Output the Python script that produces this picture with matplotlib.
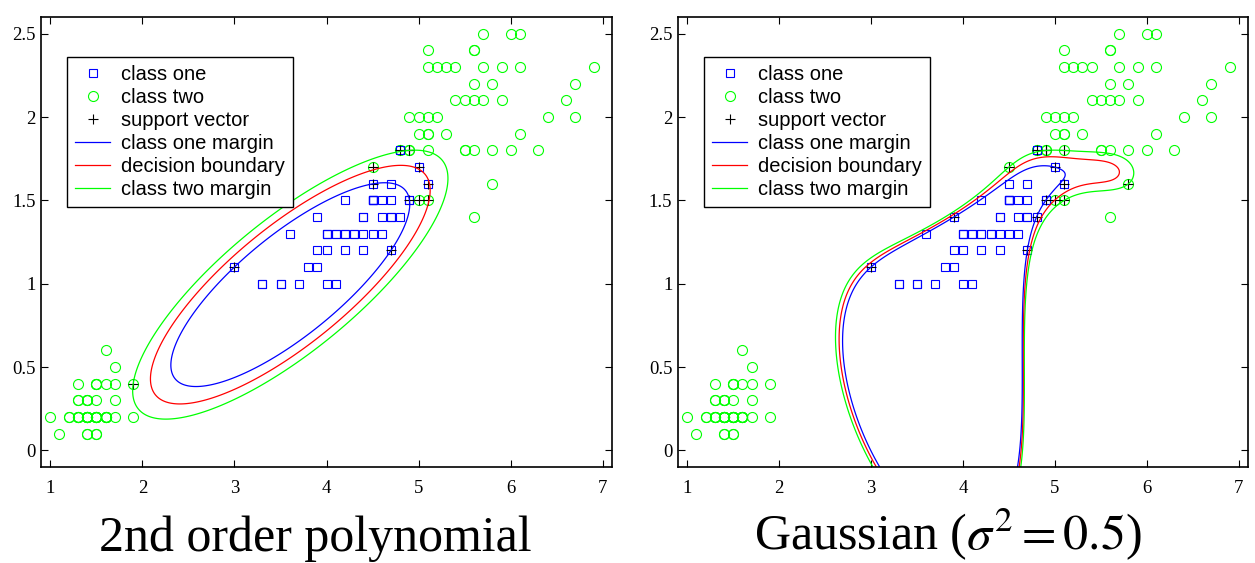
import numpy as np
import matplotlib
matplotlib.use("Agg")
import matplotlib.pyplot as plt
from matplotlib.lines import Line2D

# iris petal length / width: class one = versicolor, class two = setosa + virginica
versicolor_len = [4.7, 4.5, 4.9, 4.0, 4.6, 4.5, 4.7, 3.3, 4.6, 3.9, 3.5, 4.2, 4.0, 4.7, 3.6, 4.4, 4.5,
                  4.1, 4.5, 3.9, 4.8, 4.0, 4.9, 4.7, 4.3, 4.4, 4.8, 5.0, 4.5, 3.5, 3.8, 3.7, 3.9, 5.1,
                  4.5, 4.5, 4.7, 4.4, 4.1, 4.0, 4.4, 4.6, 4.0, 3.3, 4.2, 4.2, 4.2, 4.3, 3.0, 4.1]
versicolor_wid = [1.4, 1.5, 1.5, 1.3, 1.5, 1.3, 1.6, 1.0, 1.3, 1.4, 1.0, 1.5, 1.0, 1.4, 1.3, 1.4, 1.5,
                  1.0, 1.5, 1.1, 1.8, 1.3, 1.5, 1.2, 1.3, 1.4, 1.4, 1.7, 1.5, 1.0, 1.1, 1.0, 1.2, 1.6,
                  1.5, 1.6, 1.5, 1.3, 1.3, 1.3, 1.2, 1.4, 1.2, 1.0, 1.3, 1.2, 1.3, 1.3, 1.1, 1.3]
setosa_len = [1.4, 1.4, 1.3, 1.5, 1.4, 1.7, 1.4, 1.5, 1.4, 1.5, 1.5, 1.6, 1.4, 1.1, 1.2, 1.5, 1.3,
              1.4, 1.7, 1.5, 1.7, 1.5, 1.0, 1.7, 1.9, 1.6, 1.6, 1.5, 1.4, 1.6, 1.6, 1.5, 1.5, 1.4,
              1.5, 1.2, 1.3, 1.4, 1.3, 1.5, 1.3, 1.3, 1.3, 1.6, 1.9, 1.4, 1.6, 1.4, 1.5, 1.4]
setosa_wid = [0.2, 0.2, 0.2, 0.2, 0.2, 0.4, 0.3, 0.2, 0.2, 0.1, 0.2, 0.2, 0.1, 0.1, 0.2, 0.4, 0.4,
              0.3, 0.3, 0.3, 0.2, 0.4, 0.2, 0.5, 0.2, 0.2, 0.4, 0.2, 0.2, 0.2, 0.2, 0.4, 0.1, 0.2,
              0.2, 0.2, 0.2, 0.1, 0.2, 0.2, 0.3, 0.3, 0.2, 0.6, 0.4, 0.3, 0.2, 0.2, 0.2, 0.2]
virginica_len = [6.0, 5.1, 5.9, 5.6, 5.8, 6.6, 4.5, 6.3, 5.8, 6.1, 5.1, 5.3, 5.5, 5.0, 5.1, 5.3, 5.5,
                 6.7, 6.9, 5.0, 5.7, 4.9, 6.7, 4.9, 5.7, 6.0, 4.8, 4.9, 5.6, 5.8, 6.1, 6.4, 5.6, 5.1,
                 5.6, 6.1, 5.6, 5.5, 4.8, 5.4, 5.6, 5.1, 5.1, 5.9, 5.7, 5.2, 5.0, 5.2, 5.4, 5.1]
virginica_wid = [2.5, 1.9, 2.1, 1.8, 2.2, 2.1, 1.7, 1.8, 1.8, 2.5, 2.0, 1.9, 2.1, 2.0, 2.4, 2.3, 1.8,
                 2.2, 2.3, 1.5, 2.3, 2.0, 2.0, 1.8, 2.1, 1.8, 1.8, 1.8, 2.1, 1.6, 1.9, 2.0, 2.2, 1.5,
                 1.4, 2.3, 2.4, 1.8, 1.8, 2.1, 2.4, 2.3, 1.9, 2.3, 2.5, 2.3, 1.9, 2.0, 2.3, 1.8]

x_ticks = [1, 2, 3, 4, 5, 6, 7]
y_ticks = [0, 0.5, 1, 1.5, 2, 2.5]
y_tick_labels = ['0', '0.5', '1', '1.5', '2', '2.5']
titles = ['2nd order polynomial', r'Gaussian ($\sigma^2 = 0.5$)']
legend_labels = ['class one', 'class two', 'support vector', 'class one margin',
                 'decision boundary', 'class two margin']

# SVM settings (tuned so the boundaries look like the reference)
poly_C = 1000.0
rbf_C = 1e4
rbf_width = 0.75


def poly_kernel(A, B):
    return (A @ B.T + 1.0) ** 2


def rbf_kernel(A, B):
    d2 = (A ** 2).sum(1)[:, None] + (B ** 2).sum(1)[None, :] - 2 * A @ B.T
    return np.exp(-d2 / (2 * rbf_width))


def train_svm(K, y, C, tol=1e-3, max_iter=100000):
    # libsvm style SMO, second order working set selection
    n = len(y)
    Q = np.outer(y, y) * K
    dK = np.diag(K)
    a = np.zeros(n)
    G = -np.ones(n)
    for _ in range(max_iter):
        yG = -y * G
        up = ((y > 0) & (a < C)) | ((y < 0) & (a > 0))
        low = ((y > 0) & (a > 0)) | ((y < 0) & (a < C))
        iu = np.flatnonzero(up)
        i = iu[np.argmax(yG[iu])]
        gmax = yG[i]
        if gmax - yG[low].min() < tol:
            break
        cand = np.flatnonzero(low & (yG < gmax))
        b = gmax - yG[cand]
        q = dK[i] + dK[cand] - 2 * K[i, cand]
        q = np.where(q > 0, q, 1e-12)
        j = cand[np.argmin(-b * b / q)]
        ai, aj = a[i], a[j]
        if y[i] != y[j]:
            quad = max(Q[i, i] + Q[j, j] + 2 * Q[i, j], 1e-12)
            delta = (-G[i] - G[j]) / quad
            diff = a[i] - a[j]
            a[i] += delta
            a[j] += delta
            if diff > 0:
                if a[j] < 0:
                    a[j] = 0; a[i] = diff
            else:
                if a[i] < 0:
                    a[i] = 0; a[j] = -diff
            if diff > 0:
                if a[i] > C:
                    a[i] = C; a[j] = C - diff
            else:
                if a[j] > C:
                    a[j] = C; a[i] = C + diff
        else:
            quad = max(Q[i, i] + Q[j, j] - 2 * Q[i, j], 1e-12)
            delta = (G[i] - G[j]) / quad
            s = a[i] + a[j]
            a[i] -= delta
            a[j] += delta
            if s > C:
                if a[i] > C:
                    a[i] = C; a[j] = s - C
            else:
                if a[j] < 0:
                    a[j] = 0; a[i] = s
            if s > C:
                if a[j] > C:
                    a[j] = C; a[i] = s - C
            else:
                if a[i] < 0:
                    a[i] = 0; a[j] = s
        G += Q[:, i] * (a[i] - ai) + Q[:, j] * (a[j] - aj)
    yG = y * G
    free = (a > 1e-8 * C) & (a < C * (1 - 1e-8))
    rho = yG[free].mean() if free.any() else 0.5 * (yG.max() + yG.min())
    return a, rho


X1 = np.column_stack([versicolor_len, versicolor_wid])
X2 = np.column_stack([setosa_len + virginica_len, setosa_wid + virginica_wid])
X = np.vstack([X1, X2])
y = np.concatenate([np.ones(len(X1)), -np.ones(len(X2))])

plt.rcParams['font.family'] = ['Liberation Serif', 'DejaVu Serif']
plt.rcParams['mathtext.fontset'] = 'stix'

fig = plt.figure(figsize=(12.55, 5.63), dpi=100)
ax_pos = [[0.0327, 0.1705, 0.455, 0.799], [0.5402, 0.1705, 0.4542, 0.799]]
title_x = [0.251, 0.755]

gx, gy = np.meshgrid(np.linspace(0.9, 7.1, 500), np.linspace(-0.1, 2.6, 400))
grid = np.column_stack([gx.ravel(), gy.ravel()])

for k, (kern, C) in enumerate([(poly_kernel, poly_C), (rbf_kernel, rbf_C)]):
    ax = fig.add_axes(ax_pos[k])
    alpha, rho = train_svm(kern(X, X), y, C)
    sv = alpha > 1e-6 * C
    f = (kern(grid, X[sv]) @ (alpha[sv] * y[sv]) - rho).reshape(gx.shape)

    ax.plot(X2[:, 0], X2[:, 1], 'o', mfc='none', mec='#00ff00', ms=7.2, mew=0.8)
    ax.plot(X1[:, 0], X1[:, 1], 's', mfc='none', mec='#0000ff', ms=6.2, mew=0.8)
    ax.plot(X[sv, 0], X[sv, 1], '+', color='k', ms=7, mew=0.8)
    ax.contour(gx, gy, f, levels=[-1, 0, 1], colors=['#00ff00', '#ff0000', '#0000ff'],
               linewidths=0.9)

    ax.set_xlim(0.9, 7.1)
    ax.set_ylim(-0.1, 2.6)
    ax.set_xticks(x_ticks)
    ax.set_yticks(y_ticks)
    ax.set_yticklabels(y_tick_labels)
    ax.tick_params(direction='in', top=True, right=True, length=5, width=0.8,
                   labelsize=13.5, pad=4)
    ax.tick_params(axis='x', pad=9)
    for sp in ax.spines.values():
        sp.set_linewidth(1.2)

    handles = [
        Line2D([], [], ls='none', marker='s', mfc='none', mec='#0000ff', ms=6.2, mew=0.8),
        Line2D([], [], ls='none', marker='o', mfc='none', mec='#00ff00', ms=7.2, mew=0.8),
        Line2D([], [], ls='none', marker='+', color='k', ms=7, mew=0.8),
        Line2D([], [], color='#0000ff', lw=0.9),
        Line2D([], [], color='#ff0000', lw=0.9),
        Line2D([], [], color='#00ff00', lw=0.9),
    ]
    leg = ax.legend(handles, legend_labels, loc='upper left', bbox_to_anchor=(0.0455, 0.911),
                    borderaxespad=0, fancybox=False, edgecolor='k', framealpha=1,
                    prop={'family': 'Liberation Sans', 'size': 14.5}, handlelength=1.75,
                    handletextpad=0.55, borderpad=0.4, labelspacing=0.2, numpoints=1)
    leg.get_frame().set_linewidth(1.0)

    fig.text(title_x[k], 0.022, titles[k], ha='center', va='baseline', fontsize=36)

fig.savefig('out.png', dpi=100)
